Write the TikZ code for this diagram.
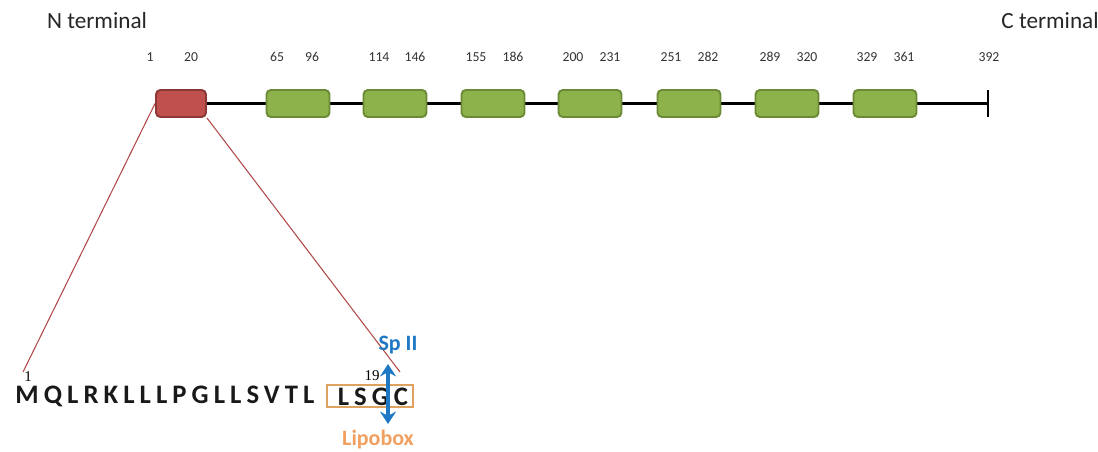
\documentclass[tikz,border=0pt]{standalone}
\usepackage{fontspec}
\setmainfont{Carlito}
\newfontfamily\serifnum{Liberation Serif}
\usetikzlibrary{arrows.meta}
\pgfdeclarelayer{background}
\pgfsetlayers{background,main}
\definecolor{domred}{HTML}{C0504D}
\definecolor{domredline}{HTML}{8C3836}
\definecolor{domgreen}{HTML}{8DB24B}
\definecolor{domgreenline}{HTML}{6A8A35}
\definecolor{zoomline}{HTML}{B04848}
\definecolor{spblue}{HTML}{1F78C4}
\definecolor{lipoorange}{HTML}{F0A060}
\definecolor{boxorange}{HTML}{E0A060}
\begin{document}
\begin{tikzpicture}[x=0.02cm,y=-0.02cm,
  title/.style={font=\fontsize{13.2}{15}\selectfont, text=black!85, inner sep=0},
  num/.style={font=\fontsize{7.8}{9}\selectfont, text=black!80, inner sep=0},
  sigdom/.style={draw=domredline, fill=domred, line width=1.1pt, rounded corners=2.5pt,
    minimum width=1.0cm, minimum height=0.54cm, inner sep=0},
  tmdom/.style={draw=domgreenline, fill=domgreen, line width=1.1pt, rounded corners=2.5pt,
    minimum width=1.26cm, minimum height=0.54cm, inner sep=0},
  backbone/.style={line width=1.6pt, black},
  zoom/.style={zoomline, line width=0.6pt},
  seqtext/.style={font=\fontsize{15.2}{18}\selectfont\bfseries\addfontfeature{LetterSpace=19}, text=black!90, inner sep=0},
  small/.style={font=\serifnum\fontsize{8.5}{9}\selectfont, inner sep=0},
  bluelab/.style={font=\fontsize{12.5}{14}\selectfont\bfseries, text=spblue, inner sep=0},
  orangelab/.style={font=\fontsize{12.5}{14}\selectfont\bfseries, text=lipoorange, inner sep=0},
  lipobox/.style={draw=boxorange, line width=0.7pt, minimum width=1.72cm, minimum height=0.44cm, inner sep=0},
  sparrow/.style={spblue, line width=2.6pt, {Stealth[length=7pt,width=9pt]}-{Stealth[length=7pt,width=9pt]}}
]
\useasboundingbox (0,0) rectangle (1098,452);

% titles
\node[title] (nterm) at (97,21) {N terminal};
\node[title] (cterm) at (1050,21) {C terminal};

% position numbers
\node[num] (p1) at (150,57) {1};
\node[num] (p20) at (191,57) {20};
\node[num] (p65) at (277,57) {65};
\node[num] (p96) at (312,57) {96};
\node[num] (p114) at (379,57) {114};
\node[num] (p146) at (415,57) {146};
\node[num] (p155) at (476,57) {155};
\node[num] (p186) at (513,57) {186};
\node[num] (p200) at (573,57) {200};
\node[num] (p231) at (610,57) {231};
\node[num] (p251) at (671,57) {251};
\node[num] (p282) at (708,57) {282};
\node[num] (p289) at (770,57) {289};
\node[num] (p320) at (807,57) {320};
\node[num] (p329) at (867,57) {329};
\node[num] (p361) at (904,57) {361};
\node[num] (p392) at (989,57) {392};

% domains
\node[sigdom] (sig) at (181,103.5) {};
\node[tmdom] (tm1) at (298,103.5) {};
\node[tmdom] (tm2) at (395,103.5) {};
\node[tmdom] (tm3) at (493,103.5) {};
\node[tmdom] (tm4) at (590,103.5) {};
\node[tmdom] (tm5) at (689,103.5) {};
\node[tmdom] (tm6) at (787,103.5) {};
\node[tmdom] (tm7) at (885,103.5) {};

\coordinate (cend) at (988,103.5);
\coordinate (bartop) at (988,90);
\coordinate (barbot) at (988,117);
\draw[line width=1.6pt] (bartop) -- (barbot);

% sequence
\node[seqtext, anchor=west] (seq) at (15,396.5) {MQLRKLLLPGLLSVTL};
\node[lipobox] (lipo) at (370,396) {};
\node[seqtext] (lsgc) at (373,396.5) {LSGC};
\node[small] (s1) at (28,377) {1};
\node[small] (s19) at (372,376) {19};

\coordinate (c1) at (23,372);
\coordinate (c19) at (400,372);

% labels and arrow
\node[bluelab] (spii) at (398,345) {Sp II};
\node[orangelab] (lipolab) at (378,440) {Lipobox};
\coordinate (atop) at (388,364);
\coordinate (abot) at (388,424);
\draw[sparrow] (atop) -- (abot);

\begin{pgfonlayer}{background}
  \draw[backbone] (sig.center) -- (cend);
  \draw[zoom] (sig.west) -- (c1);
  \draw[zoom] (sig.south east) -- (c19);
\end{pgfonlayer}
\end{tikzpicture}
\end{document}
